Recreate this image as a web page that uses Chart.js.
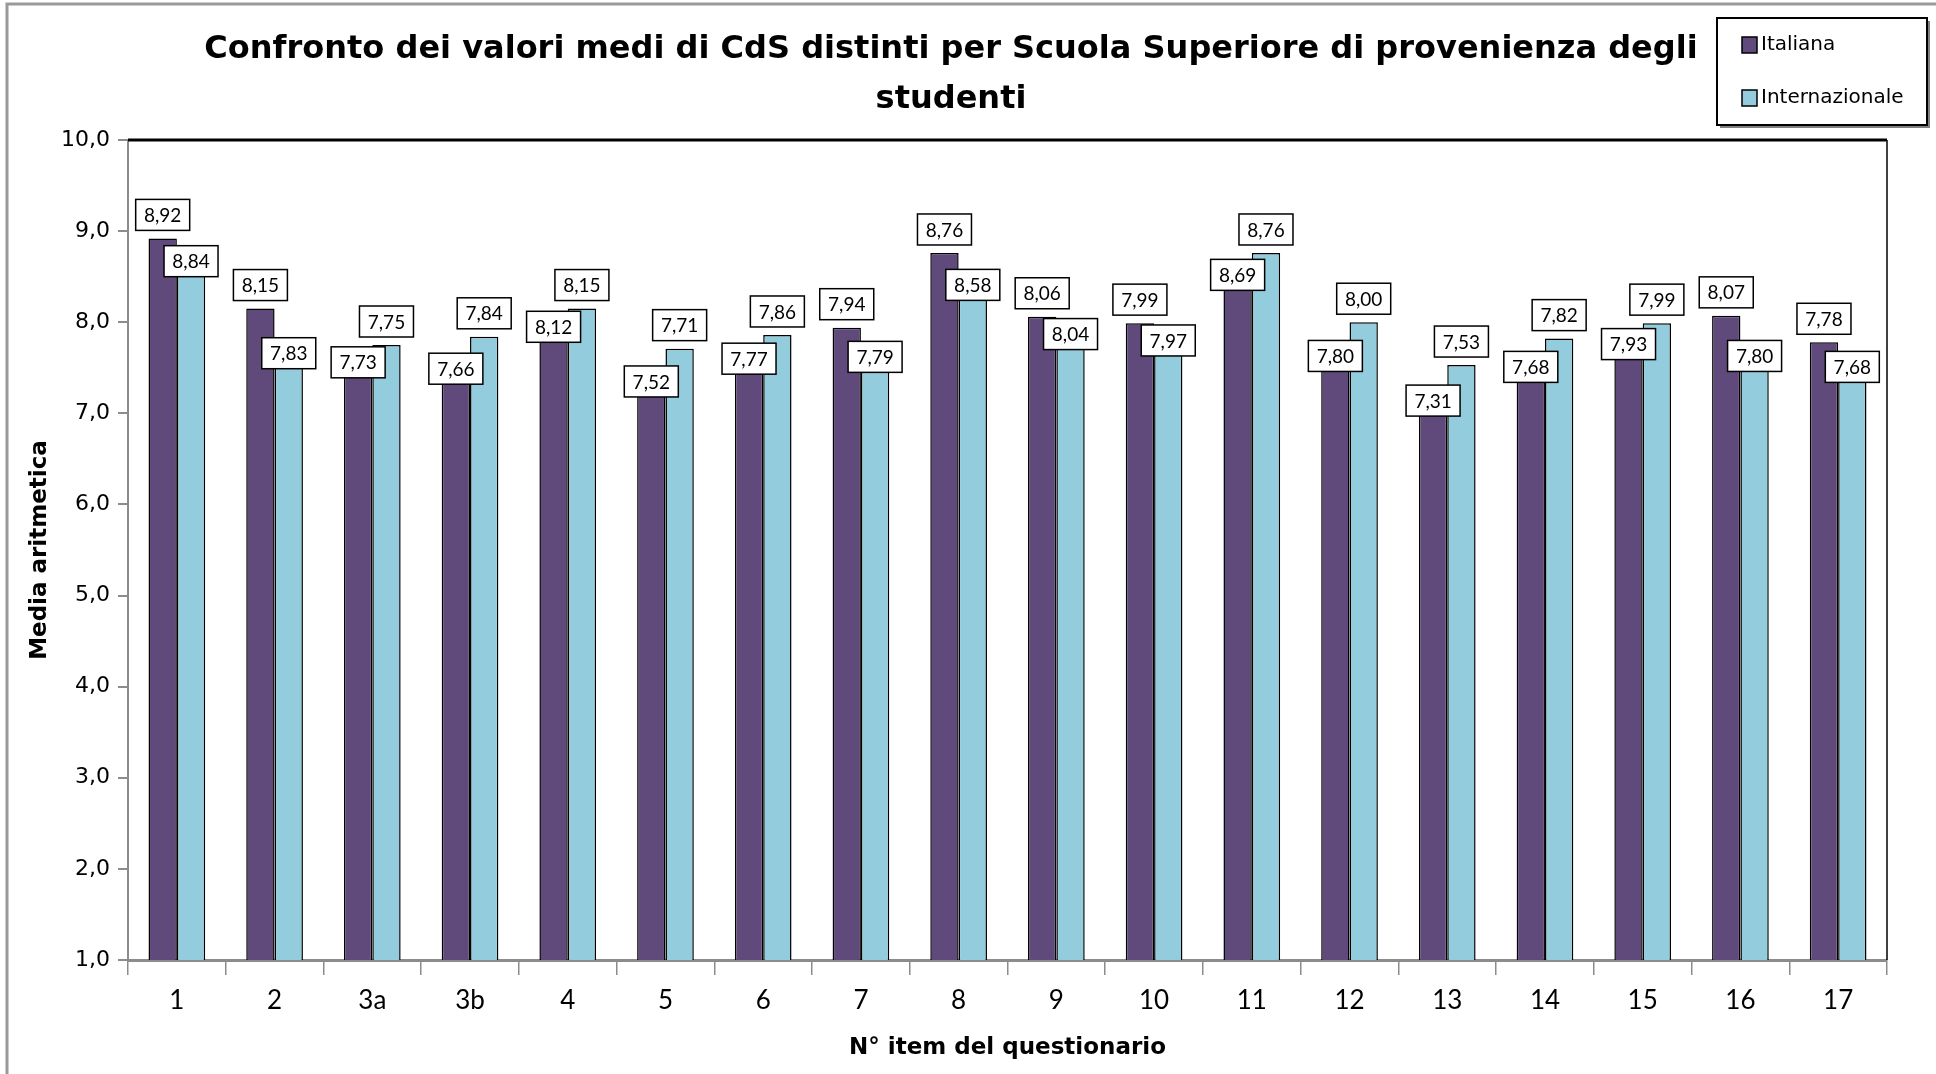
<!DOCTYPE html>
<html>
<head>
<meta charset="utf-8">
<script src="https://cdn.jsdelivr.net/npm/chart.js@4/dist/chart.umd.min.js"></script>
<style>
	html, body { margin: 0; padding: 0; background: #fff; }
	#wrap { width: 1936px; height: 1074px; }
</style>
</head>
<body>
<div id="wrap"><canvas id="chart1" width="1936" height="1074"></canvas></div>
<script>
	"use strict";

	// data
	var categories = ["1", "2", "3a", "3b", "4", "5", "6", "7", "8", "9", "10", "11", "12", "13", "14", "15", "16", "17"];
	var italiana = [8.92, 8.15, 7.73, 7.66, 8.12, 7.52, 7.77, 7.94, 8.76, 8.06, 7.99, 8.69, 7.80, 7.31, 7.68, 7.93, 8.07, 7.78];
	var internazionale = [8.84, 7.83, 7.75, 7.84, 8.15, 7.71, 7.86, 7.79, 8.58, 8.04, 7.97, 8.76, 8.00, 7.53, 7.82, 7.99, 7.80, 7.68];
	var seriesNames = ["Italiana", "Internazionale"];
	var titleLines = ["Confronto dei valori medi di CdS distinti per Scuola Superiore di provenienza degli", "studenti"];
	var yMin = 1, yMax = 10, yStep = 1;

	var comic = "'Comic Sans MS', 'DejaVu Sans', sans-serif";

	function fmt(v, d) { return v.toFixed(d).replace(".", ","); }

	// frame, title and legend drawn around the plot
	var decor = {
		id: "decor",
		beforeDraw: function (chart) {
			var ctx = chart.ctx;
			ctx.save();
			ctx.fillStyle = "#fff";
			ctx.fillRect(0, 0, chart.width, chart.height);
			ctx.strokeStyle = "#9a9a9a";
			ctx.lineWidth = 3;
			ctx.beginPath();
			ctx.moveTo(7, chart.height);
			ctx.lineTo(7, 4);
			ctx.lineTo(chart.width, 4);
			ctx.stroke();
			ctx.restore();
		},
		beforeDatasetsDraw: function (chart) {
			var a = chart.chartArea, ctx = chart.ctx;
			ctx.save();
			ctx.strokeStyle = "#000";
			ctx.lineWidth = 3;
			ctx.beginPath();
			ctx.moveTo(a.left, a.top);
			ctx.lineTo(a.right, a.top);
			ctx.stroke();
			ctx.lineWidth = 1.5;
			ctx.beginPath();
			ctx.moveTo(a.right, a.top);
			ctx.lineTo(a.right, a.bottom);
			ctx.stroke();
			ctx.restore();
		},
		afterDraw: function (chart) {
			var ctx = chart.ctx;
			ctx.save();
			// title
			ctx.fillStyle = "#000";
			ctx.font = "bold 32px " + comic;
			ctx.textAlign = "center";
			ctx.textBaseline = "middle";
			ctx.fillText(titleLines[0], 951, 50);
			ctx.fillText(titleLines[1], 951, 100);
			// legend
			var lx = 1717, ly = 18, lw = 210, lh = 107;
			ctx.fillStyle = "#808080";
			ctx.fillRect(lx + 3, ly + 3, lw, lh);
			ctx.fillStyle = "#fff";
			ctx.fillRect(lx, ly, lw, lh);
			ctx.strokeStyle = "#000";
			ctx.lineWidth = 2;
			ctx.strokeRect(lx, ly, lw, lh);
			ctx.font = "20px " + comic;
			ctx.textAlign = "left";
			var ys = [45, 98];
			chart.data.datasets.forEach(function (ds, i) {
				ctx.fillStyle = ds.backgroundColor;
				ctx.fillRect(1742, ys[i] - 8, 15, 16);
				ctx.lineWidth = 1.5;
				ctx.strokeRect(1742, ys[i] - 8, 15, 16);
				ctx.fillStyle = "#000";
				ctx.fillText(ds.label, 1761, ys[i]);
			});
			ctx.restore();
		}
	};

	// boxed value labels: the higher bar of each pair gets its label above,
	// the lower one gets it just inside the top of the bar
	var valueBoxes = {
		id: "valueBoxes",
		afterDatasetsDraw: function (chart) {
			var ctx = chart.ctx;
			ctx.save();
			ctx.font = "19px Lato, 'Open Sans', sans-serif";
			ctx.textAlign = "center";
			ctx.textBaseline = "middle";
			chart.data.datasets.forEach(function (ds, i) {
				var other = chart.data.datasets[1 - i].data;
				chart.getDatasetMeta(i).data.forEach(function (bar, j) {
					var v = ds.data[j];
					var w = 54, h = 31;
					var top = v > other[j] ? bar.y - 8 - h : bar.y;
					var left = bar.x - w / 2;
					ctx.fillStyle = "#fff";
					ctx.fillRect(left, top, w, h);
					ctx.strokeStyle = "#000";
					ctx.lineWidth = 1.5;
					ctx.strokeRect(left, top, w, h);
					ctx.fillStyle = "#000";
					ctx.fillText(fmt(v, 2), bar.x, top + h / 2 + 1);
				});
			});
			ctx.restore();
		}
	};

	new Chart(document.getElementById("chart1"), {
		type: "bar",
		data: {
			labels: categories,
			datasets: [{
				label: seriesNames[0],
				data: italiana,
				backgroundColor: "#604a7b",
				borderColor: "#000",
				borderWidth: 1.5,
				borderSkipped: "bottom"
			}, {
				label: seriesNames[1],
				data: internazionale,
				backgroundColor: "#93cddd",
				borderColor: "#000",
				borderWidth: 1.5,
				borderSkipped: "bottom"
			}]
		},
		options: {
			responsive: false,
			animation: false,
			devicePixelRatio: 1,
			layout: { padding: { top: 140, left: 26, right: 49, bottom: 12 } },
			datasets: { bar: { categoryPercentage: 0.58, barPercentage: 1 } },
			plugins: {
				legend: { display: false },
				title: { display: false },
				tooltip: { enabled: false }
			},
			scales: {
				x: {
					offset: true,
					grid: { offset: true, drawOnChartArea: false, drawTicks: true, tickLength: 15, color: "#8c8c8c", lineWidth: 1.5 },
					border: { color: "#8c8c8c", width: 3 },
					ticks: { color: "#000", font: { family: "Lato, sans-serif", size: 26 }, padding: 10 },
					title: { display: true, text: "N\u00b0 item del questionario", color: "#000", font: { family: comic, size: 23, weight: "bold" }, padding: { top: 8, bottom: 0 } },
					afterFit: function (s) { s.height = 102; }
				},
				y: {
					min: yMin,
					max: yMax,
					grid: { drawOnChartArea: false, drawTicks: true, tickLength: 10, color: "#8c8c8c", lineWidth: 2 },
					border: { color: "#8c8c8c", width: 2 },
					ticks: {
						stepSize: yStep,
						color: "#000",
						font: { family: "'DejaVu Sans', Verdana, sans-serif", size: 22 },
						padding: 8,
						callback: function (v) { return fmt(v, 1); }
					},
					title: { display: true, text: "Media aritmetica", color: "#000", font: { family: comic, size: 23, weight: "bold" }, padding: { top: 0, bottom: 6 } },
					afterFit: function (s) { s.width = 102; }
				}
			}
		},
		plugins: [decor, valueBoxes]
	});
</script>
</body>
</html>
